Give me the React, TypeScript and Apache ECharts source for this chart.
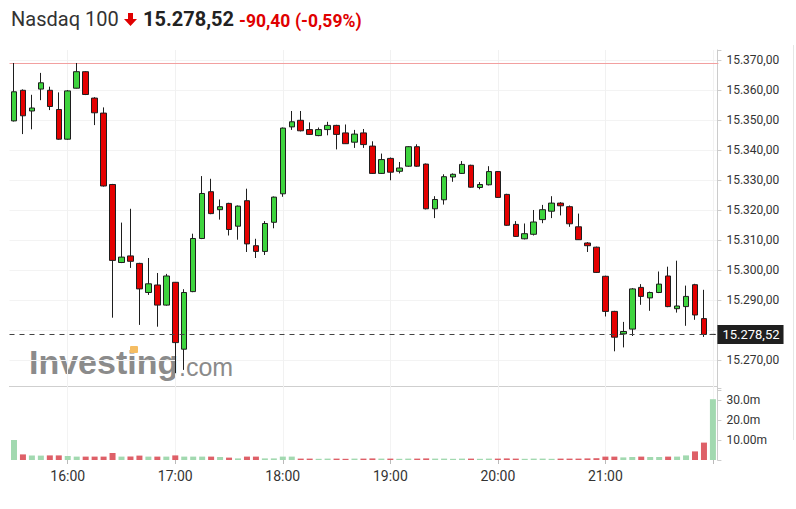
import React, { useEffect, useRef } from 'react';
import * as echarts from 'echarts';

// ---- Data ----
const times = [
  '15:30','15:35','15:40','15:45','15:50','15:55',
  '16:00','16:05','16:10','16:15','16:20','16:25','16:30','16:35','16:40','16:45','16:50','16:55',
  '17:00','17:05','17:10','17:15','17:20','17:25','17:30','17:35','17:40','17:45','17:50','17:55',
  '18:00','18:05','18:10','18:15','18:20','18:25','18:30','18:35','18:40','18:45','18:50','18:55',
  '19:00','19:05','19:10','19:15','19:20','19:25','19:30','19:35','19:40','19:45','19:50','19:55',
  '20:00','20:05','20:10','20:15','20:20','20:25','20:30','20:35','20:40','20:45','20:50','20:55',
  '21:00','21:05','21:10','21:15','21:20','21:25','21:30','21:35','21:40','21:45','21:50','21:55',
  '22:00',
];

const opens = [
  15349.7, 15359.9, 15353.0, 15360.3, 15359.9, 15353.5, 15343.6, 15360.6, 15366.1, 15357.3,
  15352.3, 15328.5, 15302.5, 15304.7, 15302.2, 15292.5, 15295.0, 15288.3, 15295.9, 15273.6,
  15292.8, 15310.5, 15326.1, 15320.1, 15322.2, 15314.6, 15323.1, 15308.1, 15306.2, 15315.9,
  15325.4, 15347.7, 15349.9, 15346.8, 15344.8, 15346.8, 15348.2, 15345.7, 15342.6, 15345.7,
  15341.3, 15332.2, 15337.2, 15332.9, 15334.6, 15341.1, 15335.3, 15320.4, 15323.4, 15331.0,
  15332.2, 15334.9, 15327.5, 15328.4, 15332.8, 15325.2, 15315.2, 15310.4, 15311.9, 15316.8,
  15319.6, 15322.3, 15321.1, 15314.4, 15309.0, 15307.6, 15297.9, 15286.2, 15278.7, 15280.3,
  15294.2, 15290.7, 15292.5, 15298.0, 15287.1, 15287.8, 15295.1, 15283.8, 15278.52,
];
const closes = [
  15359.4, 15351.4, 15354.0, 15362.4, 15354.5, 15343.6, 15359.7, 15366.1, 15358.5, 15352.4,
  15328.0, 15303.2, 15304.3, 15302.9, 15293.7, 15295.4, 15288.3, 15298.0, 15275.8, 15292.5,
  15310.5, 15325.5, 15318.8, 15321.1, 15313.5, 15321.3, 15308.7, 15306.2, 15315.5, 15324.3,
  15347.3, 15349.4, 15346.4, 15345.2, 15346.8, 15348.2, 15345.2, 15342.1, 15345.3, 15341.8,
  15332.2, 15336.8, 15332.6, 15334.0, 15341.1, 15334.6, 15320.4, 15323.5, 15331.1, 15331.9,
  15335.2, 15327.6, 15328.5, 15332.8, 15324.2, 15314.9, 15311.2, 15312.1, 15316.0, 15320.1,
  15322.3, 15321.4, 15315.4, 15310.1, 15308.1, 15299.2, 15286.2, 15277.6, 15279.5, 15293.7,
  15291.2, 15292.5, 15295.3, 15287.8, 15288.0, 15291.2, 15285.0, 15278.52, 15278.52,
];
const lows = [
  15349.5, 15345.3, 15346.9, 15356.6, 15353.3, 15343.4, 15343.4, 15360.5, 15358.3, 15348.3,
  15327.8, 15284.1, 15302.3, 15300.7, 15281.7, 15291.7, 15281.1, 15288.1, 15265.6, 15266.7,
  15292.6, 15310.3, 15318.6, 15316.8, 15311.5, 15310.1, 15306.0, 15304.0, 15305.0, 15313.9,
  15324.4, 15346.7, 15346.2, 15345.0, 15344.6, 15344.9, 15340.2, 15342.0, 15340.7, 15340.7,
  15332.0, 15332.0, 15329.9, 15332.2, 15334.4, 15334.4, 15320.2, 15317.3, 15321.8, 15329.4,
  15332.0, 15327.4, 15326.9, 15328.2, 15324.0, 15314.7, 15311.0, 15310.2, 15311.5, 15315.6,
  15317.3, 15318.2, 15314.4, 15310.0, 15306.0, 15299.0, 15284.5, 15272.9, 15274.2, 15278.0,
  15288.4, 15286.4, 15292.3, 15287.6, 15285.8, 15281.4, 15283.4, 15277.7, 15278.52,
];
const highs = [
  15369.0, 15360.2, 15358.4, 15365.7, 15361.1, 15359.2, 15360.0, 15369.0, 15366.3, 15357.6,
  15354.2, 15328.7, 15315.8, 15320.4, 15302.4, 15304.0, 15299.0, 15298.7, 15296.0, 15293.6,
  15312.1, 15331.3, 15330.4, 15323.5, 15322.4, 15321.5, 15327.1, 15310.4, 15316.3, 15324.5,
  15347.5, 15353.0, 15353.0, 15349.2, 15347.5, 15349.4, 15348.4, 15348.5, 15346.7, 15347.0,
  15342.9, 15338.8, 15337.5, 15336.0, 15341.3, 15341.9, 15335.5, 15324.6, 15331.9, 15332.2,
  15336.3, 15335.1, 15329.3, 15334.6, 15333.0, 15325.4, 15316.3, 15315.5, 15320.0, 15321.7,
  15324.6, 15322.6, 15321.5, 15318.8, 15309.3, 15307.8, 15298.1, 15286.4, 15282.7, 15294.0,
  15295.3, 15292.8, 15299.5, 15301.1, 15303.1, 15294.8, 15295.4, 15293.4, 15278.52,
];

// volume in millions
const volumes = [
  10.0, 2.8, 2.2, 2.2, 2.3, 2.3, 2.0, 1.7, 1.7, 1.7,
  1.7, 3.5, 1.7, 1.7, 2.2, 1.7, 1.7, 1.7, 2.3, 1.7,
  1.7, 1.7, 1.7, 1.5, 1.2, 0.8, 1.7, 1.7, 0.8, 0.8,
  1.7, 1.7, 0.7, 0.7, 0.6, 0.7, 0.7, 0.6, 0.7, 0.7,
  0.8, 0.7, 0.7, 0.6, 0.7, 0.7, 0.8, 0.7, 0.7, 0.6,
  0.7, 0.7, 0.6, 0.7, 0.7, 0.8, 0.7, 0.6, 0.7, 0.7,
  0.6, 0.7, 0.7, 0.7, 0.8, 0.9, 1.7, 1.7, 1.3, 1.5,
  1.7, 1.5, 1.5, 1.7, 1.7, 2.3, 4.3, 8.7, 30.4,
];

const prevClose = 15368.92;
const instrumentName = 'Nasdaq 100';
const hiddenPriceLabels = [15260, 15280];
const hiddenTimeLabels = ['22:00'];
const volTickValues = [10, 20, 30];
const volTickLabels = ['10.00m', '20.0m', '30.0m'];

// ---- helpers ----
function fmt(v: number): string {
  const neg = v < 0;
  const [i, d] = Math.abs(v).toFixed(2).split('.');
  const int = i.replace(/\B(?=(\d{3})+(?!\d))/g, '.');
  return (neg ? '-' : '') + int + ',' + d;
}

const FONT = 'Roboto, Arial, sans-serif';
const UP = '#3ed43e';
const DOWN = '#e40000';
const VUP = '#a2d9b0';
const VDOWN = '#de6068';
const GRIDC = '#f3f3f3';
const PREV_LINE = '#f2a0a0';

export default function App() {
  const ref = useRef<HTMLDivElement>(null);

  useEffect(() => {
    if (!ref.current) return;
    const chart = echarts.init(ref.current, null, { renderer: 'svg' });

    const n = times.length;
    const ohlc = times.map((_, i) => [opens[i], closes[i], lows[i], highs[i]]);
    const last = closes[n - 1];
    const change = last - prevClose;
    const pct = (change / prevClose) * 100;
    const isHour = (_i: number, v: string) => String(v).endsWith(':00');
    const isHourLabel = (_i: number, v: string) =>
      String(v).endsWith(':00') && !hiddenTimeLabels.includes(String(v));

    const priceSplitColors = [
      'rgba(0,0,0,0)', GRIDC, GRIDC, GRIDC, GRIDC, GRIDC, GRIDC,
      GRIDC, GRIDC, GRIDC, GRIDC, GRIDC, 'rgba(0,0,0,0)',
    ];

    const option: any = {
      animation: false,
      backgroundColor: '#ffffff',
      textStyle: { fontFamily: FONT },
      grid: [
        { left: 9.5, right: 78.6, top: 50, height: 340 },
        { left: 9.5, right: 78.6, top: 388, height: 72 },
      ],
      xAxis: [
        {
          type: 'category',
          gridIndex: 0,
          data: times,
          axisLine: { show: false },
          axisTick: { show: false },
          axisLabel: { show: false },
          splitLine: { show: true, interval: isHour, alignWithLabel: true, lineStyle: { color: '#f1f1f1' } },
        },
        {
          type: 'category',
          gridIndex: 1,
          data: times,
          axisLine: { show: false },
          axisTick: { show: true, interval: isHour, alignWithLabel: true, length: 4, lineStyle: { color: '#bbbbbb' } },
          axisLabel: { interval: isHourLabel, color: '#333', fontSize: 14, margin: 9, fontFamily: FONT },
          splitLine: { show: true, interval: isHour, alignWithLabel: true, lineStyle: { color: '#f3f3f3' } },
        },
      ],
      yAxis: [
        {
          type: 'value',
          gridIndex: 0,
          position: 'right',
          min: 15260,
          max: 15373.33,
          interval: 10,
          axisLine: { show: true, lineStyle: { color: '#cccccc' } },
          axisTick: { show: true, length: 4, lineStyle: { color: '#cccccc' } },
          axisLabel: {
            color: '#333',
            fontSize: 12,
            margin: 9,
            fontFamily: FONT,
            formatter: (v: number) => {
              const r = Math.round(v);
              if (Math.abs(v - r) > 0.01 || r % 10 !== 0) return '';
              if (hiddenPriceLabels.includes(r)) return '';
              return fmt(r);
            },
          },
          splitLine: { show: true, lineStyle: { color: priceSplitColors } },
        },
        {
          type: 'value',
          gridIndex: 1,
          position: 'right',
          min: 0,
          max: 36,
          interval: 10,
          axisLine: { show: true, lineStyle: { color: '#cccccc' } },
          axisTick: { show: true, length: 4, lineStyle: { color: '#cccccc' } },
          axisLabel: {
            color: '#333',
            fontSize: 12,
            margin: 9,
            fontFamily: FONT,
            formatter: (v: number) => {
              const k = volTickValues.indexOf(Math.round(v));
              return k >= 0 && Math.abs(v - Math.round(v)) < 0.01 ? volTickLabels[k] : '';
            },
          },
          splitLine: { show: false },
        },
      ],
      series: [
        {
          type: 'candlestick',
          xAxisIndex: 0,
          yAxisIndex: 0,
          data: ohlc,
          barWidth: 6,
          itemStyle: {
            color: UP,
            color0: DOWN,
            borderColor: '#1e1e1e',
            borderColor0: '#1e1e1e',
            borderWidth: 1,
          },
          markLine: {
            symbol: ['none', 'none'],
            silent: true,
            animation: false,
            data: [
              {
                yAxis: last,
                lineStyle: { color: '#444', type: [5, 5], width: 1, opacity: 1 },
                label: {
                  show: true,
                  position: 'end',
                  distance: 0,
                  formatter: fmt(last),
                  backgroundColor: '#1f1f1f',
                  color: '#ffffff',
                  fontSize: 13,
                  lineHeight: 13,
                  padding: [3, 4, 3, 5],
                  fontFamily: FONT,
                },
              },
            ],
          },
        },
        {
          type: 'bar',
          xAxisIndex: 1,
          yAxisIndex: 1,
          barWidth: 6,
          data: volumes.map((v, i) => ({
            value: v,
            itemStyle: { color: closes[i] >= opens[i] ? VUP : VDOWN },
          })),
        },
      ],
      graphic: [
        {
          type: 'text',
          x: 29,
          y: 361.5,
          z: -10,
          style: {
            text: 'Investing',
            fontSize: 34,
            fontWeight: 'bold',
            fontFamily: 'Liberation Sans, Arial, sans-serif',
            fill: '#8b8b8b',
            verticalAlign: 'middle',
          },
        },
        {
          type: 'rect',
          z: -9,
          shape: { x: 130, y: 346, width: 8, height: 7, r: 1 },
          style: { fill: '#f5bd63' },
        },
        {
          type: 'text',
          x: 179,
          y: 367,
          z: -10,
          style: {
            text: '.com',
            fontSize: 25,
            fontFamily: 'Liberation Sans, Arial, sans-serif',
            fill: '#8b8b8b',
            verticalAlign: 'middle',
          },
        },
        {
          type: 'line',
          shape: { x1: 9, y1: 386.5, x2: 718, y2: 386.5 },
          style: { stroke: '#cfcfcf', lineWidth: 1 },
        },
        {
          type: 'line',
          shape: { x1: 793.5, y1: 45, x2: 793.5, y2: 440 },
          style: { stroke: '#e6e6e6', lineWidth: 1 },
        },
        {
          type: 'text',
          x: 11,
          y: 19,
          style: { text: instrumentName, fontSize: 20, fontFamily: FONT, fill: '#333', verticalAlign: 'middle' },
        },
        {
          type: 'polygon',
          shape: {
            points: [[128, 13], [133, 13], [133, 19], [137, 19], [130.5, 26], [124, 19], [128, 19]],
          },
          style: { fill: '#e00000' },
        },
        {
          type: 'text',
          x: 143,
          y: 19,
          style: { text: fmt(last), fontSize: 20, fontWeight: 'bold', fontFamily: FONT, fill: '#222', verticalAlign: 'middle' },
        },
        {
          type: 'text',
          x: 239,
          y: 20.5,
          style: { text: fmt(change), fontSize: 17.5, fontWeight: 'bold', fontFamily: FONT, fill: '#e00000', verticalAlign: 'middle' },
        },
        {
          type: 'text',
          x: 295,
          y: 20.5,
          style: { text: '(' + fmt(pct) + '%)', fontSize: 17.5, fontWeight: 'bold', fontFamily: FONT, fill: '#e00000', verticalAlign: 'middle' },
        },
      ],
    };

    chart.setOption(option);

    // previous-close reference line, positioned through the price axis
    const yPrev = chart.convertToPixel({ yAxisIndex: 0 }, prevClose) as number;
    const xLeft = chart.convertToPixel({ xAxisIndex: 0 }, times[0]) as number;
    const xRight = chart.convertToPixel({ xAxisIndex: 0 }, times[n - 1]) as number;
    const half = (xRight - xLeft) / (n - 1) / 2;
    chart.setOption({
      graphic: [
        {
          id: 'prevCloseLine',
          type: 'line',
          z: 1,
          shape: { x1: xLeft - half, y1: Math.round(yPrev) + 0.5, x2: xRight + half + 1, y2: Math.round(yPrev) + 0.5 },
          style: { stroke: PREV_LINE, lineWidth: 1 },
        },
      ],
    });

    return () => chart.dispose();
  }, []);

  return (
    <div
      ref={ref}
      style={{ position: 'absolute', left: 0, top: 0, width: 796, height: 509, background: '#fff' }}
    />
  );
}
